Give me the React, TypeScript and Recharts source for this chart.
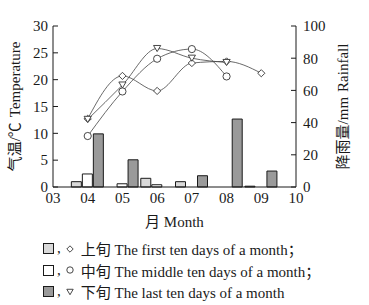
import React from "react";
import { ComposedChart, Bar, Line, XAxis, YAxis } from "recharts";

// months 04..09, values per ten-day period (上旬 / 中旬 / 下旬)
const months = [4, 5, 6, 7, 8, 9];
const monthTicks = [3, 4, 5, 6, 7, 8, 9, 10];
const tempTicks = [0, 5, 10, 15, 20, 25, 30];
const rainTicks = [0, 20, 40, 60, 80, 100];

const tempFirst = [12.7, 20.7, 17.9, 23.1, 23.4, 21.2];
const tempMiddle = [9.5, 17.8, 23.9, 25.7, 20.6, null];
const tempLast = [12.6, 19.0, 25.8, 24.0, 23.2, null];

const rainFirst = [3.3, null, 5.4, 3.3, null, 0.5];
const rainMiddle = [8.1, 2.0, 1.4, null, null, null];
const rainLast = [33.0, 16.9, null, 7.0, 42.2, 9.9];

const legendItems = [
  { fill: "#d9d9d9", mark: "diamond", text: "上旬 The first ten days of a month；" },
  { fill: "#ffffff", mark: "circle", text: "中旬 The middle ten days of a month；" },
  { fill: "#9a9a9a", mark: "triangle", text: "下旬 The last ten days of a month" },
];

const data = months.map((m, i) => ({
  month: m,
  tFirst: tempFirst[i],
  tMiddle: tempMiddle[i],
  tLast: tempLast[i],
  rFirst: rainFirst[i],
  rMiddle: rainMiddle[i],
  rLast: rainLast[i],
}));

const FONT = "'Liberation Serif', 'Noto Sans CJK SC', serif";
const INK = "#1a1a1a";

function Marker({ kind, cx, cy, r = 3.6 }: { kind: string; cx: number; cy: number; r?: number }) {
  const common = { fill: "#fff", stroke: "#333", strokeWidth: 0.9 };
  if (kind === "circle") return <circle cx={cx} cy={cy} r={r} {...common} />;
  if (kind === "diamond")
    return (
      <path
        d={`M${cx},${cy - r} L${cx + r},${cy} L${cx},${cy + r} L${cx - r},${cy} Z`}
        {...common}
      />
    );
  const h = r * 1.7;
  return (
    <path
      d={`M${cx - r},${cy - h / 2} L${cx + r},${cy - h / 2} L${cx},${cy + h / 2} Z`}
      {...common}
    />
  );
}

const dotOf = (kind: string) => (p: any) => {
  if (p.cx == null || p.cy == null || p.value == null)
    return <g key={`${kind}-${p.index}`} />;
  return (
    <g key={`${kind}-${p.index}`}>
      <Marker kind={kind} cx={p.cx} cy={p.cy} />
    </g>
  );
};

function SideTitle({ viewBox, dx, first, second }: any) {
  const x = viewBox.x + dx;
  const y = viewBox.y + viewBox.height / 2;
  return (
    <text
      x={x}
      y={y}
      transform={`rotate(-90 ${x} ${y})`}
      textAnchor="middle"
      dominantBaseline="central"
      fontSize={15}
      fontFamily={FONT}
      fill={INK}
    >
      <tspan>{first}</tspan>
      <tspan dx={5}>{second}</tspan>
    </text>
  );
}

function BottomTitle({ viewBox }: any) {
  const x = viewBox.x + viewBox.width / 2;
  const y = viewBox.y + 35;
  return (
    <text x={x} y={y} textAnchor="middle" dominantBaseline="central" fontSize={15} fontFamily={FONT} fill={INK}>
      月 Month
    </text>
  );
}

function LegendMark({ kind }: { kind: string }) {
  return (
    <svg width={10} height={10} style={{ display: "block" }}>
      <Marker kind={kind} cx={5} cy={5} r={3.2} />
    </svg>
  );
}

export default function App() {
  const tick = { fontSize: 15, fill: INK, fontFamily: FONT };
  return (
    <div style={{ position: "absolute", left: 0, top: 0, width: 369, height: 305, background: "#fff", fontFamily: FONT }}>
      <ComposedChart
        width={369}
        height={235}
        data={data}
        margin={{ top: 26, right: 0, left: 0, bottom: 8 }}
        barSize={10}
        barGap={1}
      >
        <XAxis
          dataKey="month"
          type="number"
          domain={[3, 10]}
          ticks={monthTicks}
          tickFormatter={(v) => String(v).padStart(2, "0")}
          tick={tick}
          tickLine={false}
          tickSize={0}
          tickMargin={5}
          height={40}
          axisLine={{ stroke: INK }}
          label={<BottomTitle />}
        />
        <YAxis
          yAxisId="temp"
          orientation="left"
          domain={[0, 30]}
          ticks={tempTicks}
          width={53}
          tick={tick}
          tickSize={-5}
          tickMargin={10}
          tickLine={{ stroke: INK }}
          axisLine={{ stroke: INK }}
          label={<SideTitle dx={15} first="气温/℃" second="Temperature" />}
        />
        <YAxis
          yAxisId="rain"
          orientation="right"
          domain={[0, 100]}
          ticks={rainTicks}
          width={73}
          tick={tick}
          tickSize={-5}
          tickMargin={12}
          tickLine={{ stroke: INK }}
          axisLine={{ stroke: INK }}
          label={<SideTitle dx={47} first="降雨量/mm" second="Rainfall" />}
        />
        <Bar yAxisId="rain" dataKey="rFirst" fill="#d9d9d9" stroke={INK} strokeWidth={1} isAnimationActive={false} />
        <Bar yAxisId="rain" dataKey="rMiddle" fill="#ffffff" stroke={INK} strokeWidth={1} isAnimationActive={false} />
        <Bar yAxisId="rain" dataKey="rLast" fill="#9a9a9a" stroke={INK} strokeWidth={1} isAnimationActive={false} />
        <Line yAxisId="temp" type="monotone" dataKey="tFirst" stroke="#444" strokeWidth={0.8} dot={dotOf("diamond")} activeDot={false} isAnimationActive={false} />
        <Line yAxisId="temp" type="monotone" dataKey="tMiddle" stroke="#444" strokeWidth={0.8} dot={dotOf("circle")} activeDot={false} isAnimationActive={false} />
        <Line yAxisId="temp" type="monotone" dataKey="tLast" stroke="#444" strokeWidth={0.8} dot={dotOf("triangle")} activeDot={false} isAnimationActive={false} />
      </ComposedChart>
      {legendItems.map((item, i) => (
        <div
          key={item.mark}
          style={{ position: "absolute", left: 43, top: 240 + i * 21.5, height: 17, display: "flex", alignItems: "center", fontSize: 15, color: INK, whiteSpace: "pre" }}
        >
          <div style={{ width: 9, height: 9, border: `1px solid ${INK}`, background: item.fill }} />
          <span style={{ marginLeft: 3, marginRight: 4 }}>,</span>
          <LegendMark kind={item.mark} />
          <span style={{ marginLeft: 6 }}>{item.text}</span>
        </div>
      ))}
    </div>
  );
}
